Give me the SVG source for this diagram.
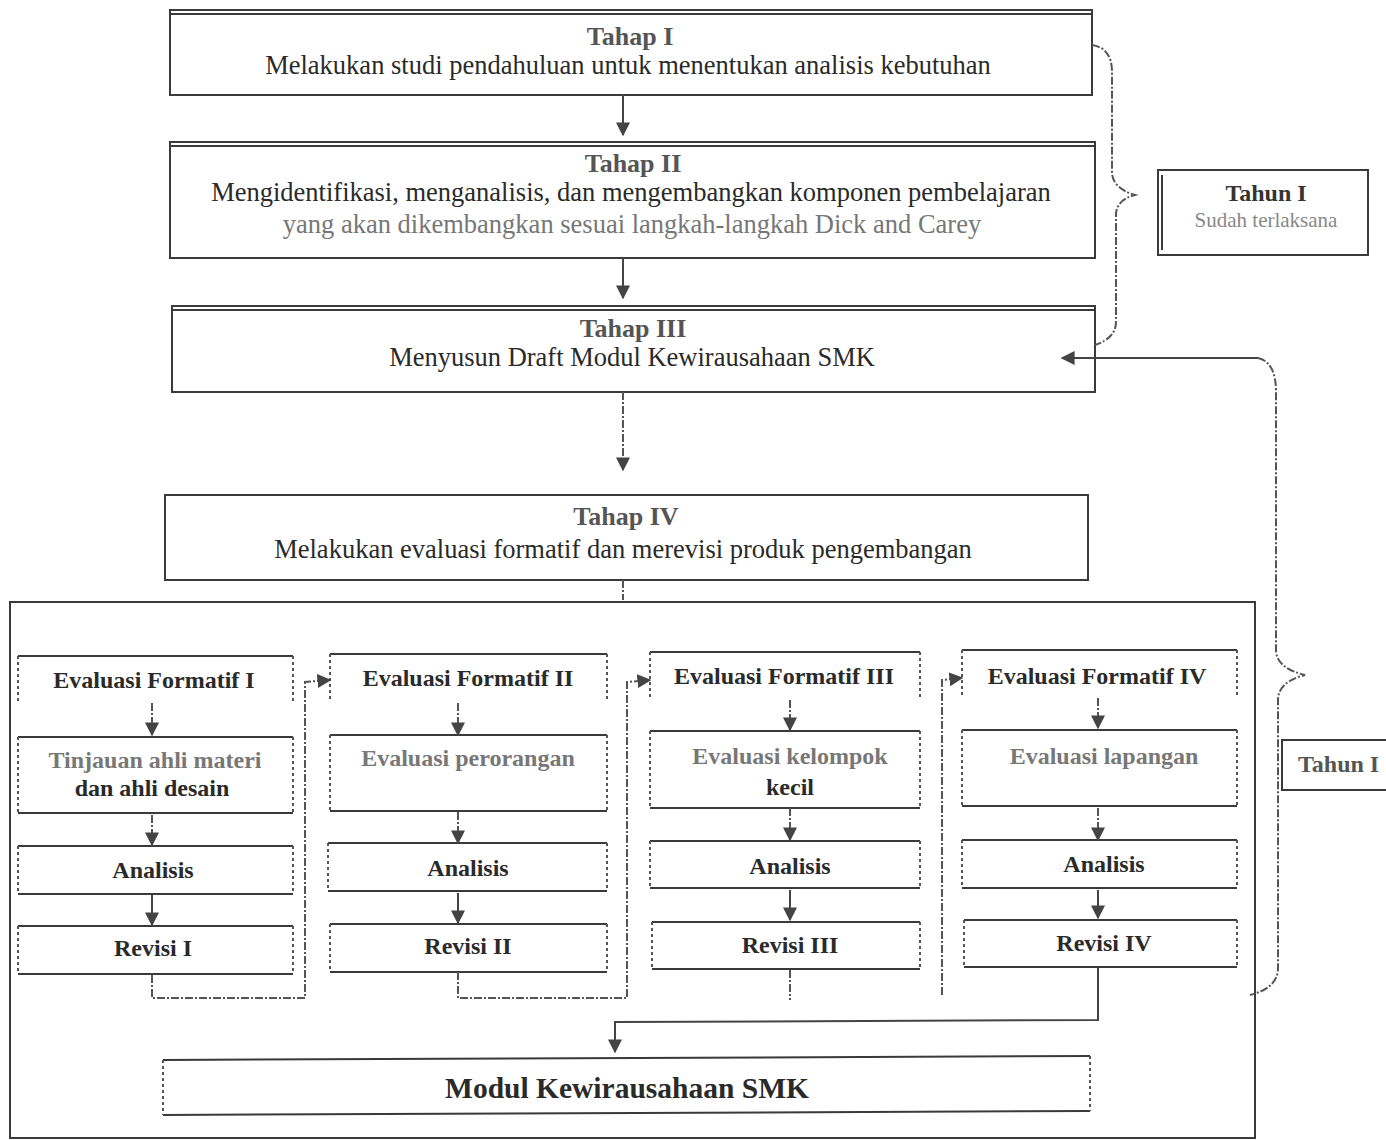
<svg xmlns="http://www.w3.org/2000/svg" width="1386" height="1140" viewBox="0 0 1386 1140">
<defs>
<marker id="ah" viewBox="0 0 10 10" refX="9" refY="5" markerWidth="14" markerHeight="14" markerUnits="userSpaceOnUse" orient="auto"><path d="M0,0 L10,5 L0,10 z" fill="#444"/></marker>
<style>
.t{font-family:"Liberation Serif",serif;fill:#2a2a2a;text-anchor:middle}
.h{font-size:26px;font-weight:bold;fill:#555}
.m{font-size:26.5px}
.e{font-size:24px;font-weight:bold}
.f{fill:#777}
.box{fill:#fff;stroke:#3a3a3a;stroke-width:2}
.solid{stroke:#3a3a3a;stroke-width:2;fill:none}
.side{stroke:#555;stroke-width:2;stroke-dasharray:3 3;fill:none}
.c{stroke:#444;stroke-width:2;fill:none}
.cd{stroke:#555;stroke-width:2;fill:none;stroke-dasharray:8 2 2 2}
</style>
</defs>
<rect width="1386" height="1140" fill="#fff"/>

<g id="tahap1">
<rect class="box" x="170" y="10" width="922" height="85"/>
<line class="solid" x1="170" y1="14" x2="1092" y2="14" stroke-width="1"/>
<text class="t h" x="630" y="45">Tahap I</text>
<text class="t m" x="628" y="74">Melakukan studi pendahuluan untuk menentukan analisis kebutuhan</text>
</g>

<g id="tahap2">
<rect class="box" x="170" y="142" width="925" height="116"/>
<line class="solid" x1="170" y1="146" x2="1095" y2="146" stroke-width="1"/>
<text class="t h" x="633" y="172">Tahap II</text>
<text class="t m" x="631" y="201">Mengidentifikasi, menganalisis, dan mengembangkan komponen pembelajaran</text>
<text class="t m f" x="632" y="233">yang akan dikembangkan sesuai langkah-langkah Dick and Carey</text>
</g>

<g id="tahap3">
<rect class="box" x="172" y="306" width="923" height="86"/>
<line class="solid" x1="172" y1="310" x2="1095" y2="310" stroke-width="1"/>
<text class="t h" x="633" y="337">Tahap III</text>
<text class="t m" x="632" y="366">Menyusun Draft Modul Kewirausahaan SMK</text>
</g>

<g id="tahun1">
<rect class="box" x="1158" y="170" width="210" height="85"/>
<line class="solid" x1="1162" y1="175" x2="1162" y2="250" stroke-width="1"/>
<text class="t" x="1266" y="201" style="font-size:24px;font-weight:bold;fill:#333">Tahun I</text>
<text class="t" x="1266" y="227" style="font-size:21px;fill:#888">Sudah terlaksana</text>
</g>

<g id="tahap4">
<rect class="box" x="165" y="495" width="923" height="85"/>
<text class="t h" x="626" y="525">Tahap IV</text>
<text class="t m" x="623" y="558">Melakukan evaluasi formatif dan merevisi produk pengembangan</text>
</g>

<g id="container">
<rect x="10" y="602" width="1245" height="536" fill="none" stroke="#3a3a3a" stroke-width="2"/>
</g>

<g id="tahun2">
<path class="solid" d="M1386,740 L1282,740 L1282,790 L1386,790"/>
<text class="t" x="1298" y="772" style="font-size:24px;font-weight:bold;fill:#555;text-anchor:start">Tahun I</text>
</g>

<g id="ef1">
<line class="solid" x1="18" y1="656" x2="293" y2="656"/>
<line class="side" x1="18" y1="656" x2="18" y2="703"/>
<line class="side" x1="293" y1="656" x2="293" y2="703"/>
<text class="t e" x="154" y="688">Evaluasi Formatif I</text>
</g>
<g id="ef1-tinjauan">
<line class="solid" x1="18" y1="737" x2="293" y2="737"/><line class="solid" x1="18" y1="813" x2="293" y2="813"/>
<line class="side" x1="18" y1="737" x2="18" y2="813"/><line class="side" x1="293" y1="737" x2="293" y2="813"/>
<text class="t e f" x="155" y="768">Tinjauan ahli materi</text>
<text class="t e" x="152" y="796">dan ahli desain</text>
</g>
<g id="ef1-analisis">
<line class="solid" x1="18" y1="846" x2="293" y2="846"/><line class="solid" x1="18" y1="894" x2="293" y2="894"/>
<line class="side" x1="18" y1="846" x2="18" y2="894"/><line class="side" x1="293" y1="846" x2="293" y2="894"/>
<text class="t e" x="153" y="878">Analisis</text>
</g>
<g id="ef1-revisi">
<line class="solid" x1="18" y1="926" x2="293" y2="926"/><line class="solid" x1="18" y1="974" x2="293" y2="974"/>
<line class="side" x1="18" y1="926" x2="18" y2="974"/><line class="side" x1="293" y1="926" x2="293" y2="974"/>
<text class="t e" x="153" y="956">Revisi I</text>
</g>

<g id="ef2">
<line class="solid" x1="330" y1="654" x2="607" y2="654"/>
<line class="side" x1="330" y1="654" x2="330" y2="700"/>
<line class="side" x1="607" y1="654" x2="607" y2="700"/>
<text class="t e" x="468" y="686">Evaluasi Formatif II</text>
</g>
<g id="ef2-perorangan">
<line class="solid" x1="330" y1="735" x2="607" y2="735"/><line class="solid" x1="330" y1="811" x2="607" y2="811"/>
<line class="side" x1="330" y1="735" x2="330" y2="811"/><line class="side" x1="607" y1="735" x2="607" y2="811"/>
<text class="t e f" x="468" y="766">Evaluasi perorangan</text>
</g>
<g id="ef2-analisis">
<line class="solid" x1="328" y1="843" x2="607" y2="843"/><line class="solid" x1="328" y1="891" x2="607" y2="891"/>
<line class="side" x1="328" y1="843" x2="328" y2="891"/><line class="side" x1="607" y1="843" x2="607" y2="891"/>
<text class="t e" x="468" y="876">Analisis</text>
</g>
<g id="ef2-revisi">
<line class="solid" x1="330" y1="924" x2="607" y2="924"/><line class="solid" x1="330" y1="972" x2="607" y2="972"/>
<line class="side" x1="330" y1="924" x2="330" y2="972"/><line class="side" x1="607" y1="924" x2="607" y2="972"/>
<text class="t e" x="468" y="954">Revisi II</text>
</g>

<g id="ef3">
<line class="solid" x1="650" y1="652" x2="920" y2="652"/>
<line class="side" x1="650" y1="652" x2="650" y2="698"/>
<line class="side" x1="920" y1="652" x2="920" y2="698"/>
<text class="t e" x="784" y="684">Evaluasi Formatif III</text>
</g>
<g id="ef3-kelompok">
<line class="solid" x1="650" y1="731" x2="920" y2="731"/><line class="solid" x1="650" y1="808" x2="920" y2="808"/>
<line class="side" x1="650" y1="731" x2="650" y2="808"/><line class="side" x1="920" y1="731" x2="920" y2="808"/>
<text class="t e f" x="790" y="764">Evaluasi kelompok</text>
<text class="t e" x="790" y="795">kecil</text>
</g>
<g id="ef3-analisis">
<line class="solid" x1="650" y1="841" x2="920" y2="841"/><line class="solid" x1="650" y1="888" x2="920" y2="888"/>
<line class="side" x1="650" y1="841" x2="650" y2="888"/><line class="side" x1="920" y1="841" x2="920" y2="888"/>
<text class="t e" x="790" y="874">Analisis</text>
</g>
<g id="ef3-revisi">
<line class="solid" x1="652" y1="922" x2="920" y2="922"/><line class="solid" x1="652" y1="969" x2="920" y2="969"/>
<line class="side" x1="652" y1="922" x2="652" y2="969"/><line class="side" x1="920" y1="922" x2="920" y2="969"/>
<text class="t e" x="790" y="953">Revisi III</text>
</g>

<g id="ef4">
<line class="solid" x1="962" y1="650" x2="1237" y2="650"/>
<line class="side" x1="962" y1="650" x2="962" y2="697"/>
<line class="side" x1="1237" y1="650" x2="1237" y2="697"/>
<text class="t e" x="1097" y="684">Evaluasi Formatif IV</text>
</g>
<g id="ef4-lapangan">
<line class="solid" x1="962" y1="730" x2="1237" y2="730"/><line class="solid" x1="962" y1="806" x2="1237" y2="806"/>
<line class="side" x1="962" y1="730" x2="962" y2="806"/><line class="side" x1="1237" y1="730" x2="1237" y2="806"/>
<text class="t e f" x="1104" y="764">Evaluasi lapangan</text>
</g>
<g id="ef4-analisis">
<line class="solid" x1="962" y1="840" x2="1237" y2="840"/><line class="solid" x1="962" y1="888" x2="1237" y2="888"/>
<line class="side" x1="962" y1="840" x2="962" y2="888"/><line class="side" x1="1237" y1="840" x2="1237" y2="888"/>
<text class="t e" x="1104" y="872">Analisis</text>
</g>
<g id="ef4-revisi">
<line class="solid" x1="964" y1="920" x2="1237" y2="920"/><line class="solid" x1="964" y1="967" x2="1237" y2="967"/>
<line class="side" x1="964" y1="920" x2="964" y2="967"/><line class="side" x1="1237" y1="920" x2="1237" y2="967"/>
<text class="t e" x="1104" y="951">Revisi IV</text>
</g>

<g id="modul">
<line class="solid" x1="163" y1="1060" x2="1090" y2="1056"/><line class="solid" x1="163" y1="1115" x2="1090" y2="1111"/>
<line class="side" x1="163" y1="1060" x2="163" y2="1115"/><line class="side" x1="1090" y1="1056" x2="1090" y2="1111"/>
<text class="t" x="627" y="1098" style="font-size:29.5px;font-weight:bold">Modul Kewirausahaan SMK</text>
</g>

<g id="connectors">
<line class="c" x1="623" y1="95" x2="623" y2="135" marker-end="url(#ah)"/>
<line class="c" x1="623" y1="258" x2="623" y2="298" marker-end="url(#ah)"/>
<line class="cd" x1="623" y1="392" x2="623" y2="470" marker-end="url(#ah)"/>
<line class="cd" x1="623" y1="580" x2="623" y2="600"/>
<path class="cd" d="M1092,45 Q1112,48 1112,72 L1112,172 Q1112,188 1135,195 Q1116,200 1116,215 L1116,322 Q1116,338 1095,345"/>
<path class="c" d="M1258,358 L1062,358" marker-end="url(#ah)"/>
<path class="cd" d="M1258,358 Q1276,362 1276,392 L1276,650 Q1276,668 1305,675 Q1278,682 1278,700 L1278,968 Q1278,988 1250,995"/>
<line class="cd" x1="152" y1="703" x2="152" y2="735" marker-end="url(#ah)"/>
<line class="cd" x1="152" y1="815" x2="152" y2="845" marker-end="url(#ah)"/>
<line class="c" x1="152" y1="895" x2="152" y2="925" marker-end="url(#ah)"/>
<path class="cd" d="M152,975 L152,998 L305,998 L305,682 L330,680" marker-end="url(#ah)"/>
<line class="cd" x1="458" y1="703" x2="458" y2="735" marker-end="url(#ah)"/>
<line class="cd" x1="458" y1="812" x2="458" y2="843" marker-end="url(#ah)"/>
<line class="c" x1="458" y1="893" x2="458" y2="923" marker-end="url(#ah)"/>
<path class="cd" d="M458,972 L458,998 L627,998 L627,682 L650,680" marker-end="url(#ah)"/>
<line class="cd" x1="790" y1="700" x2="790" y2="730" marker-end="url(#ah)"/>
<line class="cd" x1="790" y1="808" x2="790" y2="840" marker-end="url(#ah)"/>
<line class="c" x1="790" y1="890" x2="790" y2="920" marker-end="url(#ah)"/>
<line class="cd" x1="790" y1="970" x2="790" y2="1000"/>
<path class="cd" d="M942,995 L942,680 L962,678" marker-end="url(#ah)"/>
<line class="cd" x1="1098" y1="698" x2="1098" y2="728" marker-end="url(#ah)"/>
<line class="cd" x1="1098" y1="808" x2="1098" y2="840" marker-end="url(#ah)"/>
<line class="c" x1="1098" y1="890" x2="1098" y2="918" marker-end="url(#ah)"/>
<path class="c" d="M1098,968 L1098,1020 L615,1022 L615,1052" marker-end="url(#ah)"/>
</g>
</svg>
